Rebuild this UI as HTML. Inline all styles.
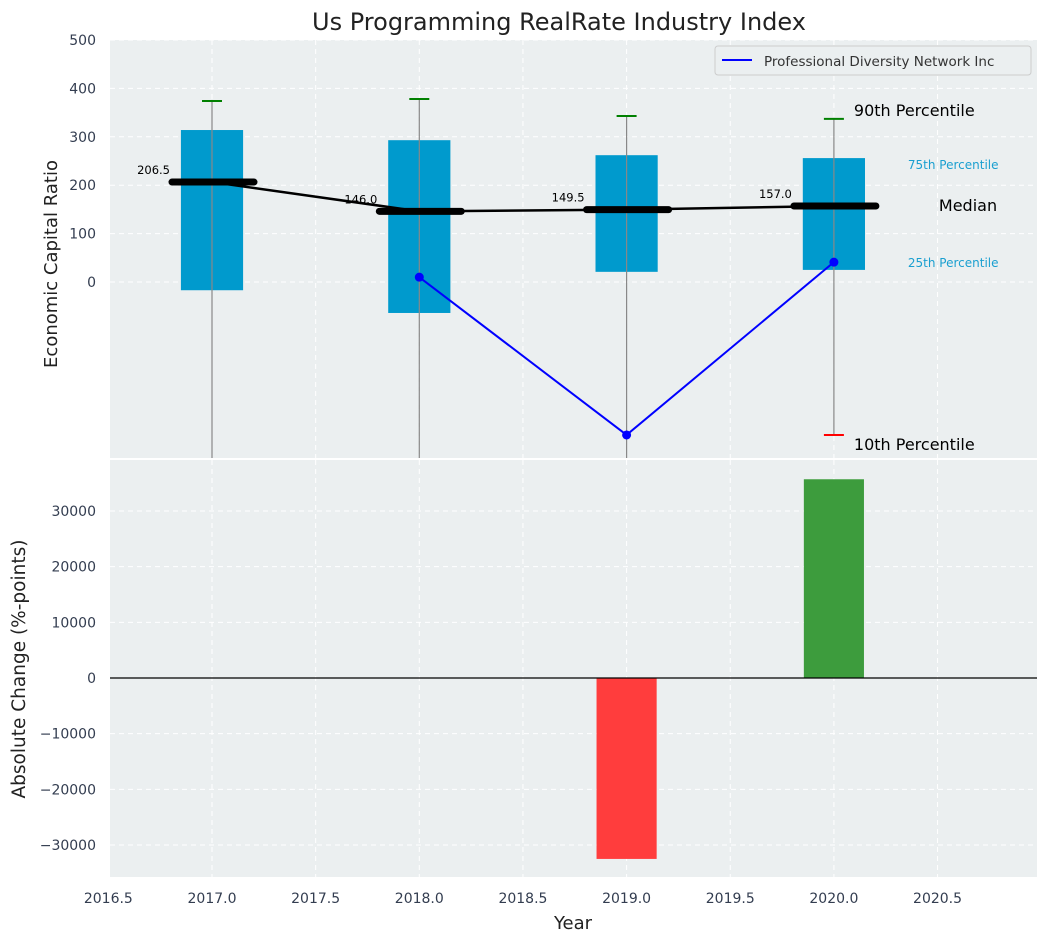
<!DOCTYPE html>
<html><head><meta charset="utf-8"><style>
body{margin:0;background:#fff;}
svg{display:block;font-family:"DejaVu Sans","Liberation Sans",sans-serif;}
</style></head><body>
<svg id="chart" width="1048" height="942" viewBox="0 0 1048 942"></svg>
<script>
const years=[2017,2018,2019,2020];
const p90=[374,378,343,337];
const p75=[314,293,262,256];
const medians=[206.5,146.0,149.5,157.0];
const p25=[-17,-64,21,25];
const p10=[null,null,null,-316];
const companyYears=[2018,2019,2020];
const companyValues=[10,-316,41];
const changeYears=[2019,2020];
const changeValues=[-32500,35700];
const xTicks=[2016.5,2017.0,2017.5,2018.0,2018.5,2019.0,2019.5,2020.0,2020.5];
const yTopTicks=[0,100,200,300,400,500];
const yBotTicks=[-30000,-20000,-10000,0,10000,20000,30000];

const NS="http://www.w3.org/2000/svg";
const svg=document.getElementById('chart');
const L=110,R=1037,T1=40,B1=458,T2=460,B2=877;
const x=v=>212+(v-2017)*207.3;
const yT=v=>282-v*0.484;
const yB=v=>678-v*0.005567;
function el(tag,attrs,parent,text){const e=document.createElementNS(NS,tag);for(const k in attrs)e.setAttribute(k,attrs[k]);if(text!==undefined)e.textContent=text;(parent||svg).appendChild(e);return e;}

let e;
e=el('text',{x:559,y:30,'text-anchor':'middle','font-size':24,fill:'#222'},svg,'Us Programming RealRate Industry Index');



const topG=el('g',{});


el('rect',{x:L,y:T1,width:R-L,height:B1-T1,fill:'#ebeff0'},topG);
const botG=el('g',{});


el('rect',{x:L,y:T2,width:R-L,height:B2-T2,fill:'#ebeff0'},botG);

xTicks.forEach(t=>{
  el('line',{x1:x(t),x2:x(t),y1:T1,y2:B1,stroke:'#fff','stroke-dasharray':'5,4','stroke-width':1},topG);
  el('line',{x1:x(t),x2:x(t),y1:T2,y2:B2,stroke:'#fff','stroke-dasharray':'5,4','stroke-width':1},botG);
  const t1=el('text',{x:x(t),y:903,'text-anchor':'middle','font-size':14,fill:'#333d50'},svg,t.toFixed(1));
  
  
});
yTopTicks.forEach(t=>{
  el('line',{x1:L,x2:R,y1:yT(t),y2:yT(t),stroke:'#fff','stroke-dasharray':'5,4'},topG);
  const t1=el('text',{x:96,y:yT(t)+5,'text-anchor':'end','font-size':14,fill:'#333d50'},svg,t);
  
  
});
yBotTicks.forEach(t=>{
  el('line',{x1:L,x2:R,y1:yB(t),y2:yB(t),stroke:'#fff','stroke-dasharray':'5,4'},botG);
  const t1=el('text',{x:96,y:yB(t)+5,'text-anchor':'end','font-size':14,fill:'#333d50'},svg,(t<0?'\u2212'+(-t):t));
  
  
});

const defs=el('defs',{});
const cp=el('clipPath',{id:'c1'},defs);el('rect',{x:L,y:T1,width:R-L,height:B1-T1},cp);
const g=el('g',{'clip-path':'url(#c1)'},topG);

const hw=0.15*207.3;
years.forEach((yr,i)=>{
  let b=el('rect',{x:x(yr)-hw,y:yT(p75[i]),width:2*hw,height:yT(p25[i])-yT(p75[i]),fill:'#009acd'},g);
  
  
  const low=p10[i]===null?-400:p10[i];
  el('line',{x1:x(yr),x2:x(yr),y1:yT(p90[i]),y2:yT(low),stroke:'#888','stroke-width':1.2},g);
  b=el('line',{x1:x(yr)-10,x2:x(yr)+10,y1:yT(p90[i]),y2:yT(p90[i]),stroke:'green','stroke-width':2},g);
  
  
  if(p10[i]!==null){
    b=el('line',{x1:x(yr)-10,x2:x(yr)+10,y1:yT(p10[i]),y2:yT(p10[i]),stroke:'red','stroke-width':2},g);
    
    
  }
});
e=el('polyline',{points:years.map((yr,i)=>x(yr)+','+yT(medians[i])).join(' '),fill:'none',stroke:'#000','stroke-width':2.5},g);


years.forEach((yr,i)=>{
  let m=el('line',{x1:x(yr)-40,x2:x(yr)+42,y1:yT(medians[i]),y2:yT(medians[i]),stroke:'#000','stroke-width':7,'stroke-linecap':'round'},g);
  
  
  m=el('text',{x:x(yr)-42,y:yT(medians[i])-8,'text-anchor':'end','font-size':11.5,fill:'#000'},g,medians[i].toFixed(1));
  
  
});
e=el('polyline',{points:companyYears.map((yr,i)=>x(yr)+','+yT(companyValues[i])).join(' '),fill:'none',stroke:'#0000ff','stroke-width':2},g);


companyYears.forEach((yr,i)=>{
  const c=el('circle',{cx:x(yr),cy:yT(companyValues[i]),r:4.5,fill:'#0000ff'},g);
  
  
});

const lastX=x(years[3]);
[[lastX+20,116,'90th Percentile',16,'#000'],[lastX+74,169,'75th Percentile',12,'#1a9fd0'],
 [lastX+105,211,'Median',16,'#000'],[lastX+74,267,'25th Percentile',12,'#1a9fd0'],
 [lastX+20,450,'10th Percentile',16,'#000']].forEach(a=>{
  const t=el('text',{x:a[0],y:a[1],'font-size':a[3],fill:a[4]},svg,a[2]);
  
  
});

const lg=el('g',{});


el('rect',{x:715,y:46,width:316,height:29,rx:3,fill:'#ebeff0',stroke:'#ccc'},lg);
el('line',{x1:722,x2:752,y1:60,y2:60,stroke:'#0000ff','stroke-width':2},lg);
el('text',{x:764,y:66,'font-size':13.5,fill:'#333'},lg,'Professional Diversity Network Inc');

const bw=0.145*207.3;
changeYears.forEach((yr,i)=>{
  const v=changeValues[i];
  const r=el('rect',{x:x(yr)-bw,y:Math.min(yB(v),yB(0)),width:2*bw,height:Math.abs(yB(v)-yB(0)),fill:v<0?'#ff3d3d':'#3d9c3d'},botG);
  
  
});
el('line',{x1:L,x2:R,y1:yB(0),y2:yB(0),stroke:'#000','stroke-width':1.2},botG);

e=el('text',{x:57,y:264,'text-anchor':'middle','font-size':18,fill:'#222',transform:'rotate(-90 57 264)'},svg,'Economic Capital Ratio');


e=el('text',{x:25,y:669,'text-anchor':'middle','font-size':18.5,fill:'#222',transform:'rotate(-90 25 669)'},svg,'Absolute Change (%-points)');


e=el('text',{x:573,y:929,'text-anchor':'middle','font-size':18,fill:'#222'},svg,'Year');


</script>
</body></html>
